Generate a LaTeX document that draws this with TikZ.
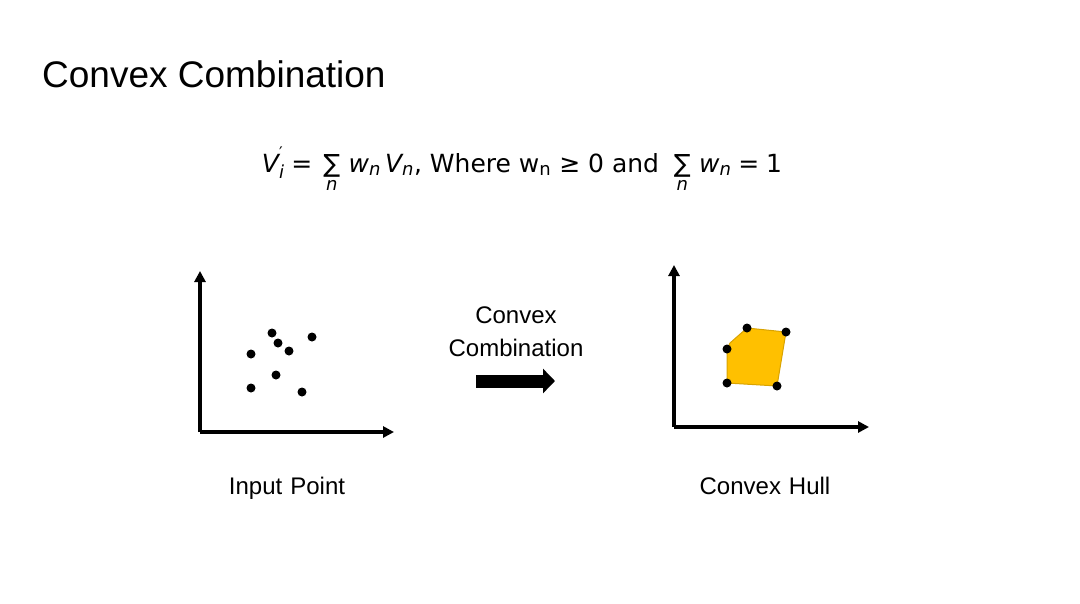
\documentclass[tikz,border=0pt]{standalone}
\usepackage{fontspec}
\setmainfont{Liberation Sans}
\newfontfamily\eqfont{DejaVu Sans}
\usetikzlibrary{arrows.meta}
\definecolor{hullfill}{HTML}{FFC000}
\definecolor{hulledge}{HTML}{D9A300}
\tikzset{
  axis/.style={line width=3.2pt,-{Triangle[length=11pt,width=11pt]}},
  pt/.style={circle,fill=black,inner sep=0pt,minimum size=9pt},
  lbl/.style={font=\fontsize{24}{28}\selectfont,inner sep=0pt},
  fatarrow/.style={line width=13pt,-{Triangle[length=12pt,width=24pt]}},
}
\newcommand\mysum{\mathop{\hbox{∑}}\limits_{\raisebox{-8pt}{\fontsize{18}{18}\selectfont\itshape n}}}
\newcommand\myw{\hbox{\itshape w}_{\hbox{\fontsize{18}{18}\selectfont\itshape n}}}
\begin{document}
\begin{tikzpicture}[x=1pt,y=-1pt]
\useasboundingbox[fill=white] (0,0) rectangle (1080,603);
% title
\node[anchor=base west,inner sep=0pt,font=\fontsize{37}{40}\selectfont] (title) at (42,87) {Convex Combination};
% equation
\node[anchor=base,inner sep=0pt,font=\eqfont\fontsize{25}{30}\selectfont] (eq) at (522,172)
 {$\hbox{\itshape V}^{\raisebox{2pt}{\fontsize{16}{16}\selectfont ′}}_{\hbox{\fontsize{18}{18}\selectfont\itshape i}}
 \;\hbox{=}\;\mysum\,\myw\,\hbox{\itshape V}_{\hbox{\fontsize{18}{18}\selectfont\itshape n}}$,
 Where w$_{\hbox{\fontsize{18}{18}\selectfont n}}$ ≥ 0 and $\;\mysum\,\myw\;\hbox{=}\;\hbox{1}$};
% left axes
\coordinate (o1) at (200,432);
\coordinate (y1) at (200,271);
\coordinate (x1) at (394,432);
\draw[axis] (o1) -- (y1);
\draw[axis] (o1) -- (x1);
\node[pt] (p1) at (272,333) {};
\node[pt] (p2) at (278,343) {};
\node[pt] (p3) at (312,337) {};
\node[pt] (p4) at (289,351) {};
\node[pt] (p5) at (251,354) {};
\node[pt] (p6) at (276,375) {};
\node[pt] (p7) at (251,388) {};
\node[pt] (p8) at (302,392) {};
\node[lbl,anchor=base] (l1) at (287,494) {Input\,\,Point};
% arrow
\node[lbl,anchor=base] (c1) at (516,323) {Convex};
\node[lbl,anchor=base] (c2) at (516,356) {Combination};
\coordinate (as) at (476,381);
\coordinate (ae) at (555,381);
\draw[fatarrow] (as) -- (ae);
% right axes
\coordinate (o2) at (674,427);
\coordinate (y2) at (674,265);
\coordinate (x2) at (869,427);
\draw[axis] (o2) -- (y2);
\draw[axis] (o2) -- (x2);
\coordinate (h1) at (747,328);
\coordinate (h2) at (786,332);
\coordinate (h3) at (777,386);
\coordinate (h4) at (727,383);
\coordinate (h5) at (727,349);
\draw[fill=hullfill,draw=hulledge,line width=1pt,line join=round] (h1) -- (h2) -- (h3) -- (h4) -- (h5) -- (730,343) -- cycle;
\foreach \h in {h1,h2,h3,h4,h5} \node[pt] at (\h) {};
\node[lbl,anchor=base] (l2) at (765,494) {Convex\,\,Hull};
\end{tikzpicture}
\end{document}
